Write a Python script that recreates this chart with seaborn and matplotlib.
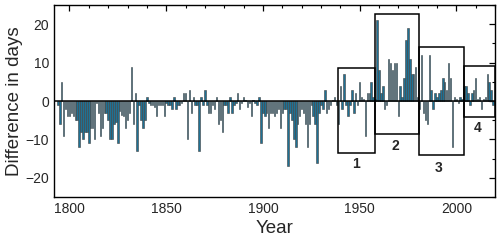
import numpy as np
import pandas as pd
import matplotlib
matplotlib.use("Agg")
import matplotlib.pyplot as plt
from matplotlib.patches import Rectangle
from matplotlib.ticker import MultipleLocator
import seaborn as sns

years = list(range(1794, 2020))
diff_days = [
    # 1794-1823
    -1, -6, 5, -9, -2, -4, -4, -3, -4, -5, -5, -12, -8, -10, -8, -8, -11, -7, -7, -10,
    -0.5, -3, -9, -7, -3, -3, -5, -10, -10, -6,
    # 1824-1858
    -5.5, -11, -2.5, -3.5, -4, -7, -5, -3, 9, -6, 2, -13, -1, -5, -7, -5, 1, -0.5, -1, -1,
    -1.5, -4, -1, -1, -1, -4, -0.5, -1, -1, -2, 1, -2, -1, -1, -0.5,
    # 1859-1888
    2, 2, -10, 3, -3, 1, -1, -1, -13, 1, -1, 3, -1, -3, -3, -1, -2, 1, -6, -5,
    -8, -1, -1, -3, 1, -3, -1, -0.5, 2, -2,
    # 1889-1920
    -0.5, 1, 0.3, -1.5, -0.5, -4, 0.3, -0.5, -1, 1, -11, -3, -4, -3, -7, -3, -3, -4, -3, -2,
    -7, -3, -2, -2, -17, -3, -5, -10, -12, -6, -4, -2,
    # 1921-1938
    -3, -6, -12, -6, -1, -4, -6, -16, -3, -1, -2, 3, -3, -2, -1, 0.3, 1, -1,
    # 1939-1958
    -6, 4, -2, 7, -1, -4, -1, 3, -3, 2, -1, 5, 1, 0.5, -9, 2, 2, 5, 1, 0.5,
    # 1959-1980
    21, 8, 2, 4, -2, -1, 11, 10, 8, 10, 10, -4, 4, 1, 6, 16, 19, 11, 7, 7, 9, 1,
    # 1981-2003
    -2, 12, -3, -5, -6, 12, 3, -2, 2, 1, 2, 3, 6, 5, 3, 10, 6, -12, 1, 0.5, -0.5, 1, 0.5,
    # 2004-2019
    4, 4, 2, -1, 2, 3, 6, 0.5, 1, -2, 0.5, 1, 7, 5, 3, -1,
]

period_labels = ["1", "2", "3", "4"]
period_start = [1938.8, 1957.8, 1980.9, 2004.2]
period_end = [1957.8, 1980.9, 2004.2, 2020.0]
period_max = [8.5, 22.6, 14.0, 9.2]
period_min = [-13.4, -8.7, -14.1, -4.1]
label_x = [1948.3, 1968.5, 1991.0, 2011.2]
label_y = [-16.4, -11.7, -17.3, -7.0]

df = pd.DataFrame({"Year": years, "Diff": diff_days})

sns.set_style("white")
plt.rcParams["font.family"] = ["Liberation Sans", "DejaVu Sans"]

fig = plt.figure(figsize=(5.0, 2.43), dpi=100)
ax = fig.add_axes([0.108, 0.189, 0.882, 0.79])

sns.barplot(data=df, x="Year", y="Diff", native_scale=True, color="#1f7194",
            saturation=1, edgecolor="#404040", linewidth=0.4, width=0.75, ax=ax, zorder=2)

ax.axhline(0, color="black", lw=1.1, zorder=3)

for x0, x1, lo, hi, lab, lx, ly in zip(period_start, period_end, period_min, period_max,
                                         period_labels, label_x, label_y):
    ax.add_patch(Rectangle((x0, lo), x1 - x0, hi - lo, fill=False, ec="black", lw=1.1, zorder=4))
    ax.text(lx, ly, lab, ha="center", va="center", fontsize=10, fontweight="bold")

ax.set_xlim(1792, 2020)
ax.set_ylim(-25, 25)
ax.xaxis.set_major_locator(MultipleLocator(50))
ax.xaxis.set_minor_locator(MultipleLocator(10))
ax.yaxis.set_major_locator(MultipleLocator(10))
ax.yaxis.set_minor_locator(MultipleLocator(5))
ax.tick_params(which="both", direction="in", top=True, right=True, labelsize=10, color="black")
ax.tick_params(which="major", length=4, width=0.9)
ax.tick_params(which="minor", length=2.5, width=0.8)
for s in ax.spines.values():
    s.set_color("black")
    s.set_linewidth(1.0)

ax.set_xlabel("Year", fontsize=13.5, labelpad=3)
ax.set_ylabel("Difference in days", fontsize=13.5, labelpad=2)

fig.savefig("out.png", dpi=100)
